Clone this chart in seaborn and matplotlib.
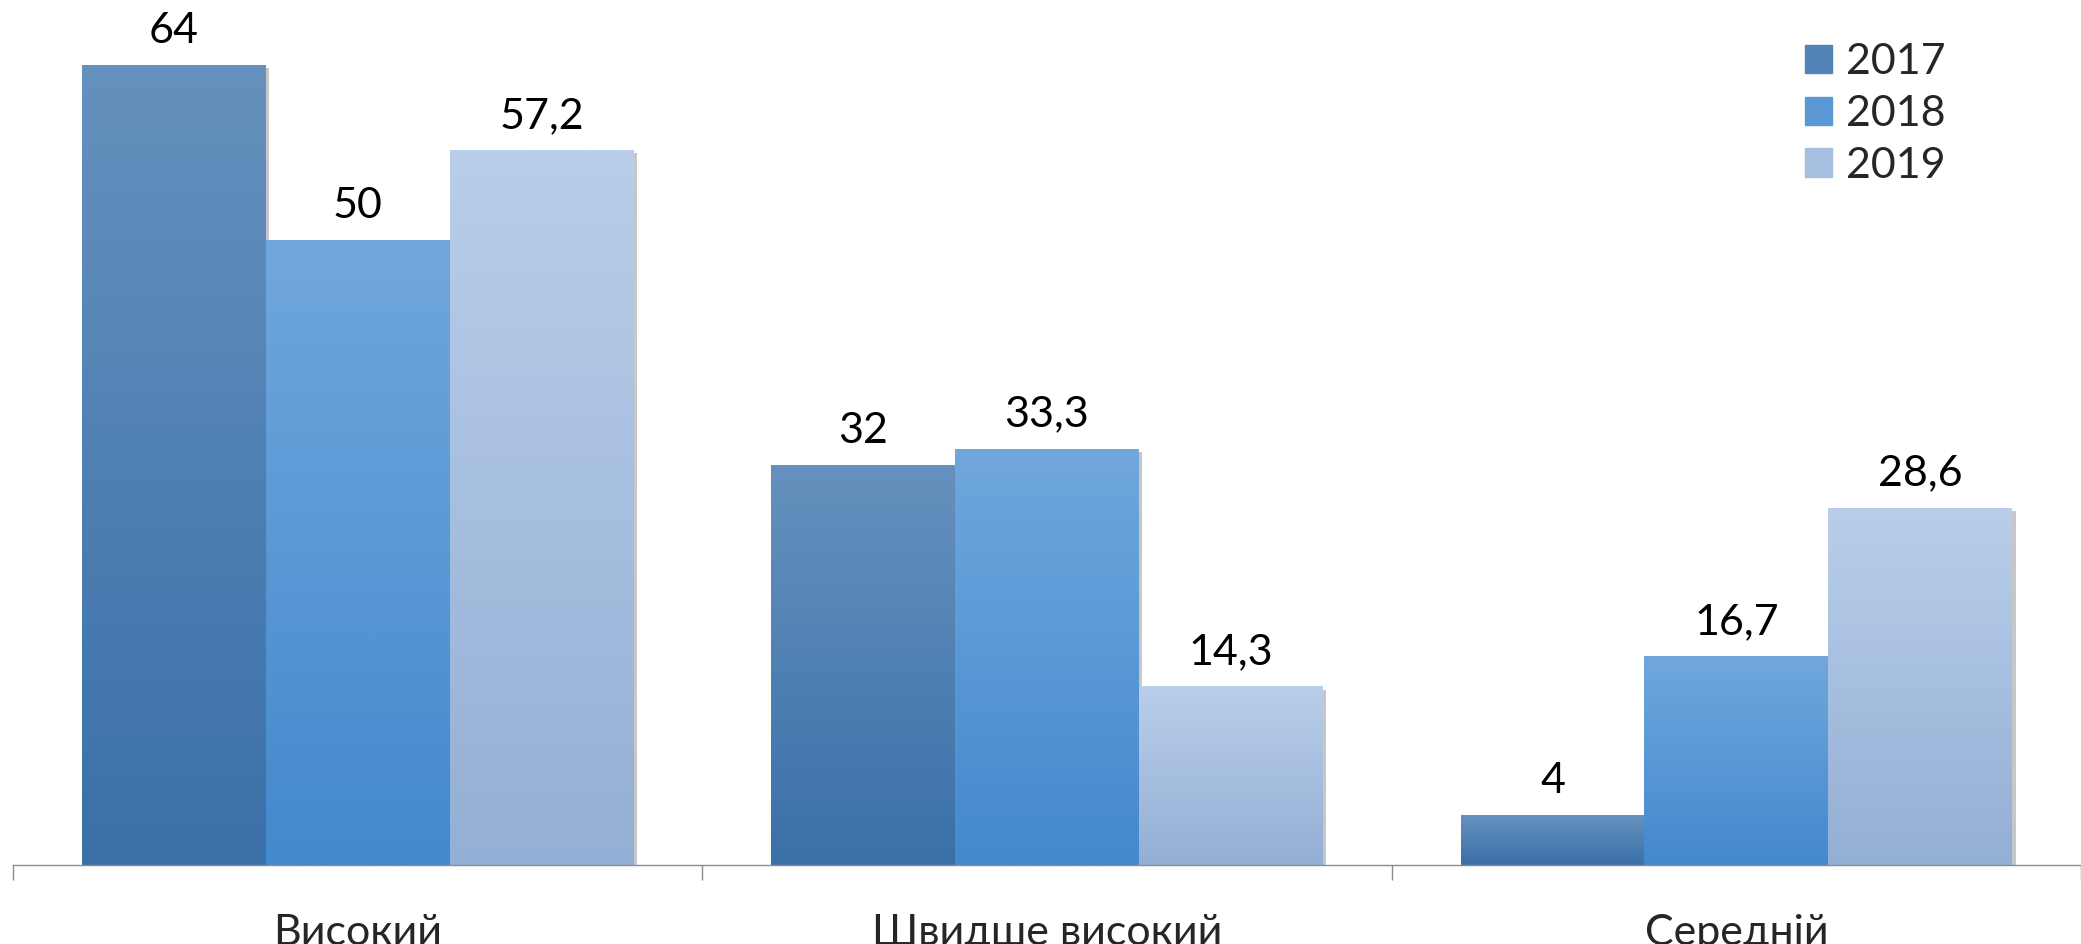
import matplotlib
matplotlib.use("Agg")
import matplotlib.pyplot as plt
import seaborn as sns
import numpy as np
import pandas as pd
from matplotlib.colors import LinearSegmentedColormap
from matplotlib.patheffects import SimplePatchShadow, Normal

categories = ["Високий", "Швидше високий", "Середній"]
years = ["2017", "2018", "2019"]
values_2017 = [64, 32, 4]
values_2018 = [50, 33.3, 16.7]
values_2019 = [57.2, 14.3, 28.6]

# gradient (top, bottom) per year, like the office-style fill
grad_top = ["#6691BE", "#70A7DD", "#B9CEEA"]
grad_bottom = ["#3A70A8", "#4389CD", "#94AFD5"]
mid_colors = ["#5283B6", "#5A98D6", "#A6BEE0"]

df = pd.DataFrame({
    "category": categories * 3,
    "year": [y for y in years for _ in categories],
    "value": values_2017 + values_2018 + values_2019,
})

sns.set_style("white")
plt.rcParams["font.family"] = ["Lato", "Noto Sans", "DejaVu Sans"]

W, H = 2081, 944
fig = plt.figure(figsize=(W / 100, H / 100), dpi=100)
ax = fig.add_axes([13 / W, (H - 865) / H, 1 - 13 / W, 865 / H])

sns.barplot(data=df, x="category", y="value", hue="year", hue_order=years,
            order=categories, palette=mid_colors, saturation=1, width=0.8,
            ax=ax, legend=True)

ax.set_xlim(-0.5, 2.5)
ax.set_ylim(0, 69.2)

shadow = [SimplePatchShadow(offset=(2.5, -2.5), shadow_rgbFace="k", alpha=0.22), Normal()]
for i, cont in enumerate(ax.containers):
    cmap = LinearSegmentedColormap.from_list(f"g{i}", [grad_top[i], grad_bottom[i]])
    grad = np.linspace(0, 1, 256).reshape(-1, 1)
    for bar in cont:
        bar.set_edgecolor("none")
        bar.set_path_effects(shadow)
        x0, w, h = bar.get_x(), bar.get_width(), bar.get_height()
        im = ax.imshow(grad, cmap=cmap, aspect="auto", origin="upper",
                       extent=(x0, x0 + w, 0, h), zorder=bar.get_zorder() + 0.1)
        im.set_clip_path(bar)
    labels = [f"{v:g}".replace(".", ",") for v in cont.datavalues]
    ax.bar_label(cont, labels=labels, padding=11, fontsize=31, color="black")

ax.set_xlim(-0.5, 2.5)
ax.set_ylim(0, 69.2)

sns.despine(ax=ax, left=True, top=True, right=True)
ax.spines["bottom"].set_color("#8C8C8C")
ax.spines["bottom"].set_linewidth(1)
ax.set_yticks([])
ax.set_xlabel("")
ax.set_ylabel("")
ax.set_xticks([0, 1, 2])
ax.set_xticklabels(categories)
ax.tick_params(axis="x", which="major", bottom=True, length=0, labelsize=31, pad=35)
ax.set_xticks([-0.5, 0.5, 1.5, 2.5], minor=True)
ax.tick_params(axis="x", which="minor", bottom=True, length=10.8, width=1,
               color="#8C8C8C", direction="out")

handles, labs = ax.get_legend_handles_labels()
leg = ax.legend(handles, labs, loc="upper left", bbox_to_anchor=(1805 / W, 1 - 43 / H),
                bbox_transform=fig.transFigure, frameon=False, fontsize=31,
                handlelength=0.63, handleheight=0.63, handletextpad=0.33,
                labelspacing=0.32, borderpad=0, borderaxespad=0)
for hnd, c in zip(leg.legend_handles, mid_colors):
    hnd.set_color(c)

fig.savefig("out.png", dpi=100)
